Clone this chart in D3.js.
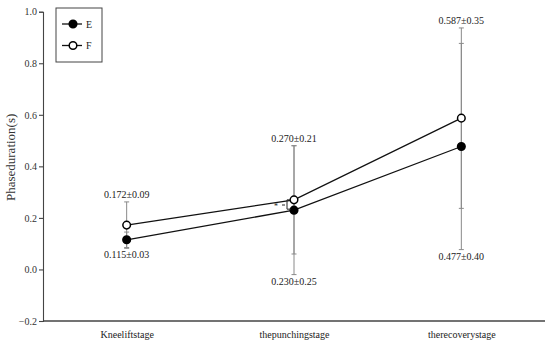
<!DOCTYPE html>
<html>
<head>
<meta charset="utf-8">
<script src="https://cdn.jsdelivr.net/npm/d3@7"></script>
<style>
  body { margin: 0; background: #fff; }
  svg { display: block; font-family: "Liberation Serif", "Times New Roman", serif; }
</style>
</head>
<body>
<svg id="chart" width="550" height="343"></svg>
<script>
const stages = ["Kneeliftstage", "thepunchingstage", "therecoverystage"];
const meanE = [0.115, 0.230, 0.477];
const sdE = [0.03, 0.25, 0.40];
const meanF = [0.172, 0.270, 0.587];
const sdF = [0.09, 0.21, 0.35];
const yTicks = [-0.2, 0.0, 0.2, 0.4, 0.6, 0.8, 1.0];

const fmt = d3.format(".3f");
const fmtSd = d3.format(".2f");

const svg = d3.select("#chart");

const x = d3.scalePoint().domain(stages).range([43, 545]).padding(0.5);
const y = d3.scaleLinear().domain([-0.2, 1.0]).range([321, 11.7]);

// y axis
svg.append("g")
  .attr("transform", "translate(43,0)")
  .call(d3.axisLeft(y).tickValues(yTicks).tickFormat(d3.format(".1f")).tickSize(4).tickPadding(2))
  .call(g => g.selectAll("text").attr("font-size", 10).attr("font-family", "Liberation Serif").attr("fill", "#333")
    .text(d => d < 0 ? "\u22120.2" : d3.format(".1f")(d)))
  .call(g => g.selectAll("line, path").attr("stroke", "#444").attr("stroke-width", 1.1));

// x axis
svg.append("g")
  .attr("transform", "translate(0,321)")
  .call(d3.axisBottom(x).tickSize(0).tickPadding(10))
  .call(g => g.select(".domain").attr("d", "M43,0H545").attr("stroke", "#444").attr("stroke-width", 1.3))
  .call(g => g.selectAll("text").attr("font-size", 10).attr("font-family", "Liberation Serif").attr("fill", "#222"));

svg.append("text")
  .attr("transform", `translate(15,${y(0.4) - 9}) rotate(-90)`)
  .attr("text-anchor", "middle")
  .attr("font-size", 13)
  .attr("fill", "#333")
  .text("Phaseduration(s)");

const series = [
  { name: "E", mean: meanE, sd: sdE, fill: "#000" },
  { name: "F", mean: meanF, sd: sdF, fill: "#fff" },
];

// error bars
series.forEach(s => {
  const g = svg.append("g").attr("stroke", "#8a8a8a").attr("stroke-width", 1);
  stages.forEach((c, i) => {
    const cx = x(c);
    const lo = y(s.mean[i] - s.sd[i]);
    const hi = y(s.mean[i] + s.sd[i]);
    g.append("line").attr("x1", cx).attr("x2", cx).attr("y1", lo).attr("y2", hi);
    [lo, hi].forEach(v => g.append("line").attr("x1", cx - 2.5).attr("x2", cx + 2.5).attr("y1", v).attr("y2", v));
  });
});

// lines and markers
const line = d3.line().x((d, i) => x(stages[i])).y(d => y(d));
series.forEach(s => {
  svg.append("path")
    .attr("d", line(s.mean))
    .attr("fill", "none")
    .attr("stroke", "#111")
    .attr("stroke-width", 1.3);
});
series.forEach(s => {
  svg.append("g").selectAll("circle")
    .data(s.mean)
    .join("circle")
    .attr("cx", (d, i) => x(stages[i]))
    .attr("cy", d => y(d))
    .attr("r", 3.8)
    .attr("fill", s.fill)
    .attr("stroke", "#000")
    .attr("stroke-width", 1.5);
});

// value labels
stages.forEach((c, i) => {
  const top = y(Math.max(meanF[i] + sdF[i], meanE[i] + sdE[i]));
  const bottom = y(Math.min(meanF[i] - sdF[i], meanE[i] - sdE[i]));
  svg.append("text")
    .attr("x", x(c)).attr("y", top - 4)
    .attr("text-anchor", "middle").attr("font-size", 10).attr("fill", "#222")
    .text(`${fmt(meanF[i])}±${fmtSd(sdF[i])}`);
  svg.append("text")
    .attr("x", x(c)).attr("y", bottom + 10)
    .attr("text-anchor", "middle").attr("font-size", 10).attr("fill", "#222")
    .text(`${fmt(meanE[i])}±${fmtSd(sdE[i])}`);
});

// significance marker at punching stage
const px = x(stages[1]);
const yF = y(meanF[1]), yE = y(meanE[1]);
svg.append("path")
  .attr("d", `M${px - 3},${yF}H${px - 7}V${yE - 1}H${px - 3}M${px - 12},${(yF + yE) / 2}H${px - 9}`)
  .attr("fill", "none").attr("stroke", "#222").attr("stroke-width", 1);
svg.append("text")
  .attr("x", px - 18).attr("y", (yF + yE) / 2 + 4)
  .attr("text-anchor", "middle").attr("font-size", 8).attr("fill", "#222")
  .text("*");

// legend
const leg = svg.append("g");
leg.append("rect")
  .attr("x", 56).attr("y", 8).attr("width", 46).attr("height", 54)
  .attr("fill", "#fff").attr("stroke", "#444").attr("stroke-width", 1);
series.forEach((s, i) => {
  const ly = 24 + i * 21.5;
  leg.append("line").attr("x1", 62).attr("x2", 82).attr("y1", ly).attr("y2", ly)
    .attr("stroke", "#111").attr("stroke-width", 1.3);
  leg.append("circle").attr("cx", 73).attr("cy", ly).attr("r", 3.8)
    .attr("fill", s.fill).attr("stroke", "#000").attr("stroke-width", 1.5);
  leg.append("text").attr("x", 86).attr("y", ly + 3.5)
    .attr("font-size", 10).attr("fill", "#222").text(s.name);
});
</script>
</body>
</html>
